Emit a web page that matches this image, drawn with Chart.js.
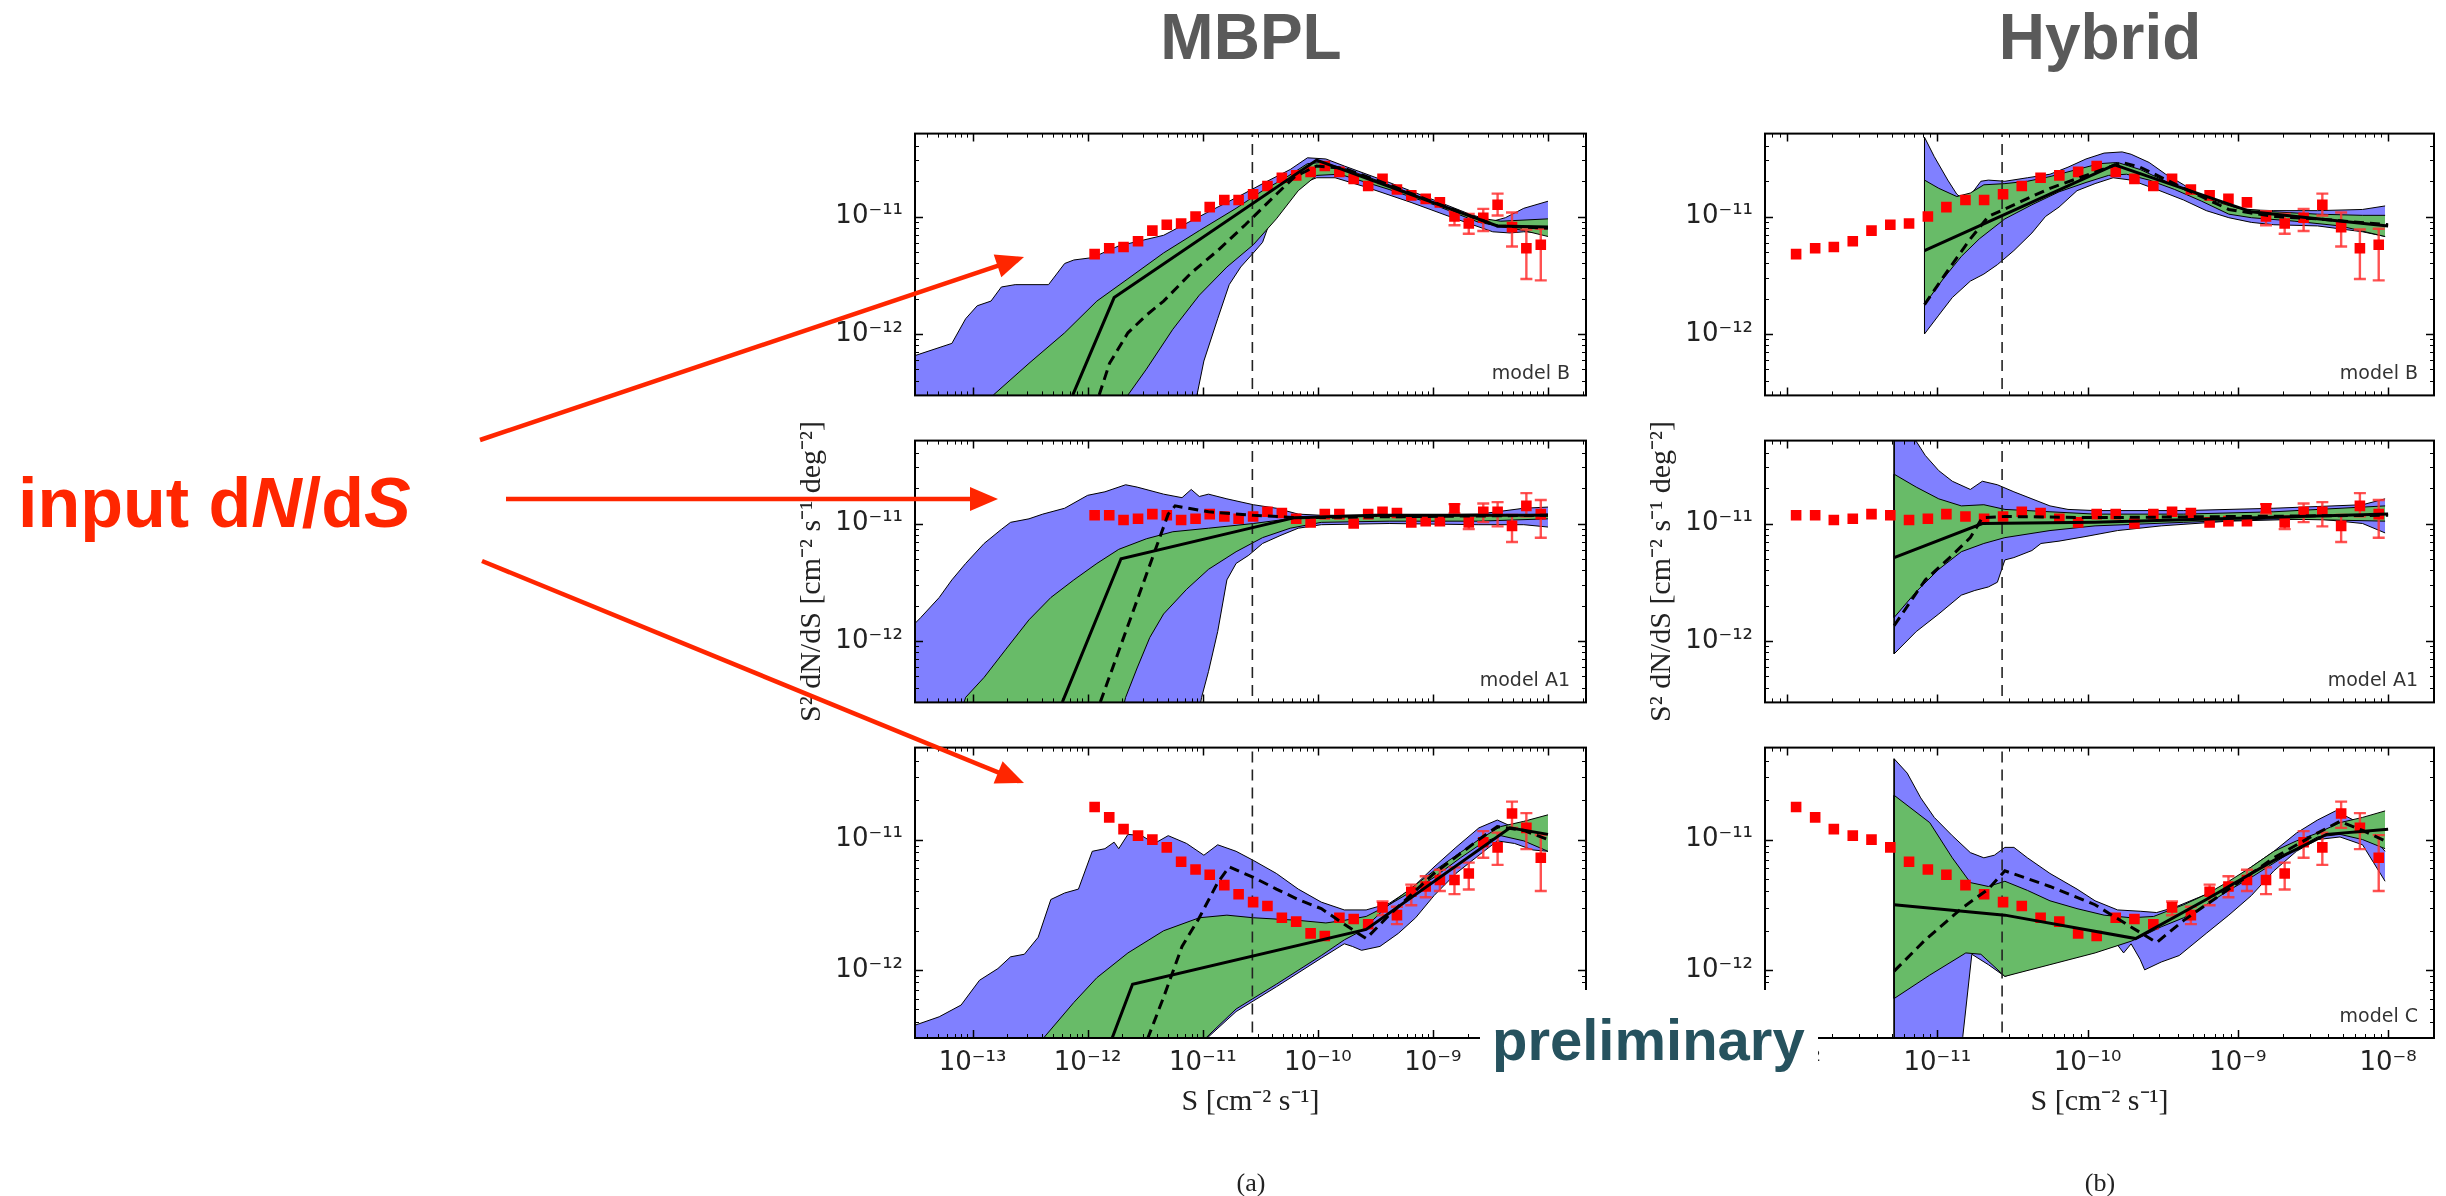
<!DOCTYPE html>
<html>
<head>
<meta charset="utf-8">
<title>S² dN/dS – MBPL vs Hybrid</title>
<script src="https://cdn.jsdelivr.net/npm/chart.js@4.4.1/dist/chart.umd.min.js"></script>
<style>
  html, body { margin: 0; padding: 0; background: #fff; }
  body { position: relative; width: 2446px; height: 1196px; overflow: hidden; }
  canvas { position: absolute; }
  #notes { position: absolute; left: 0; top: 0; }
</style>
</head>
<body>
<canvas id="mbplB"></canvas>
<canvas id="mbplA1"></canvas>
<canvas id="mbplC"></canvas>
<canvas id="hybB"></canvas>
<canvas id="hybA1"></canvas>
<canvas id="hybC"></canvas>

<svg id="notes" width="2446" height="1196" xmlns="http://www.w3.org/2000/svg">
  <g font-family="Liberation Sans, Arial, sans-serif" font-weight="bold">
    <text x="1251" y="59" text-anchor="middle" font-size="64" fill="#5a5a5a">MBPL</text>
    <text x="2100" y="59" text-anchor="middle" font-size="64" fill="#5a5a5a">Hybrid</text>
    <text x="18" y="527" font-size="70" fill="#ff2600">input d<tspan font-style="italic">N</tspan>/d<tspan font-style="italic">S</tspan></text>
    <rect x="1480" y="990" width="338" height="100" fill="#fff"/>
    <text x="1492" y="1060" font-size="58" fill="#26525e">preliminary</text>
  </g>
  <g stroke="#ff2600" stroke-width="4.5">
    <line x1="480" y1="440" x2="999" y2="265.3"/>
    <line x1="506" y1="499" x2="972" y2="499"/>
    <line x1="482" y1="561" x2="1000" y2="773.2"/>
  </g>
  <g fill="#ff2600">
    <polygon points="1024,257 1001.3,277.3 993.7,254.5"/>
    <polygon points="998,499 970,511 970,487"/>
    <polygon points="1024,783 993.6,783.5 1002.6,761.3"/>
  </g>
  <g font-family="Liberation Serif, serif" font-size="26" fill="#222" text-anchor="middle">
    <text x="1251" y="1191">(a)</text>
    <text x="2100" y="1191">(b)</text>
  </g>
</svg>

<script>
// --- data -------------------------------------------------------------
// flux bins of the input points, S [cm^-2 s^-1]
const binS = [1.15e-12, 1.54e-12, 2.05e-12, 2.74e-12, 3.65e-12, 4.87e-12, 6.49e-12, 8.66e-12,
              1.15e-11, 1.54e-11, 2.05e-11, 2.74e-11, 3.65e-11, 4.87e-11, 6.49e-11, 8.66e-11,
              1.15e-10, 1.54e-10, 2.05e-10, 2.74e-10, 3.65e-10, 4.87e-10, 6.49e-10, 8.66e-10,
              1.15e-9, 1.54e-9, 2.05e-9, 2.74e-9, 3.65e-9, 4.87e-9, 6.49e-9, 8.66e-9];

// input dN/dS points, log10(S^2 dN/dS), one per bin
const inputB = [-11.32, -11.27, -11.26, -11.21, -11.12, -11.07, -11.06, -11.00, -10.92, -10.86, -10.86, -10.81, -10.74, -10.67, -10.65, -10.62,
                -10.57, -10.62, -10.68, -10.74, -10.68, -10.77, -10.82, -10.85, -10.88, -11.00, -11.06, -11.01, -10.90, -11.09, -11.27, -11.24];
const inputA1 = [-10.93, -10.93, -10.97, -10.96, -10.92, -10.93, -10.97, -10.96, -10.92, -10.94, -10.96, -10.94, -10.90, -10.91, -10.96, -10.99,
                 -10.92, -10.92, -11.00, -10.92, -10.90, -10.91, -10.99, -10.98, -10.98, -10.87, -10.99, -10.90, -10.90, -11.02, -10.85, -10.92];
const inputC = [-10.75, -10.83, -10.92, -10.97, -11.00, -11.06, -11.17, -11.23, -11.27, -11.35, -11.42, -11.48, -11.51, -11.60, -11.63, -11.72,
                -11.74, -11.60, -11.61, -11.65, -11.52, -11.58, -11.40, -11.36, -11.31, -11.31, -11.26, -11.02, -11.06, -10.80, -10.91, -11.14];

// error bars: [bin index, log10 upper, log10 lower]
const errB = [[25, -10.955, -11.075], [26, -10.978, -11.147], [27, -10.935, -11.123], [28, -10.805, -10.991],
              [29, -10.966, -11.255], [30, -11.111, -11.532], [31, -11.104, -11.544]];
const errA1 = [[25, -10.835, -10.915], [26, -10.939, -11.048], [27, -10.83, -10.988], [28, -10.818, -11.024],
               [29, -10.927, -11.157], [30, -10.741, -10.939], [31, -10.80, -11.121]];
const errC = [[20, -11.475, -11.581], [21, -11.516, -11.649], [22, -11.346, -11.504], [23, -11.281, -11.443],
              [24, -11.232, -11.395], [25, -11.213, -11.419], [26, -11.177, -11.383], [27, -10.935, -11.140],
              [28, -10.947, -11.194], [29, -10.709, -10.910], [30, -10.797, -11.073], [31, -10.966, -11.395]];

// sensitivity cut, S [cm^-2 s^-1]
const cutS = 2.7e-11;

// axis ranges
const xRangeMBPL = [3.16e-14, 2.14e-8];
const xRangeHyb = [7.14e-13, 2.02e-8];
const yRange = [3.03e-13, 5.08e-11];

// reconstructed curves as [log10 S, log10 S^2 dN/dS]
// MBPL, model B
const mbplB_blueHi = [[-13.55,-12.20],[-13.18,-12.08],[-13.06,-11.87],[-12.96,-11.76],[-12.84,-11.72],[-12.75,-11.60],[-12.63,-11.58],[-12.34,-11.58],[-12.20,-11.40],[-12.12,-11.37],[-11.96,-11.35],[-11.73,-11.25],[-11.34,-11.16],[-10.95,-10.96],[-10.67,-10.82],[-10.44,-10.70],[-10.24,-10.60],[-10.09,-10.50],[-9.93,-10.51],[-9.77,-10.57],[-9.38,-10.71],[-8.99,-10.86],[-8.68,-10.98],[-8.48,-11.04],[-8.37,-11.01],[-8.21,-10.93],[-8.00,-10.87]];
const mbplB_blueLo = [[-13.55,-13.0],[-11.09,-12.8],[-11.05,-12.52],[-10.99,-12.23],[-10.87,-11.87],[-10.77,-11.58],[-10.67,-11.43],[-10.56,-11.31],[-10.48,-11.22],[-10.40,-11.00],[-10.28,-10.88],[-10.17,-10.73],[-10.01,-10.67],[-9.85,-10.67],[-9.58,-10.75],[-9.19,-10.88],[-8.80,-11.02],[-8.48,-11.13],[-8.33,-11.14],[-8.21,-11.13],[-8.00,-11.14]];
const mbplB_greenHi = [[-13.55,-13.2],[-12.90,-12.75],[-12.82,-12.52],[-12.51,-12.25],[-12.20,-11.99],[-11.92,-11.72],[-11.65,-11.53],[-11.34,-11.31],[-11.03,-11.12],[-10.71,-10.93],[-10.48,-10.78],[-10.28,-10.67],[-10.09,-10.55],[-9.97,-10.54],[-9.77,-10.59],[-9.38,-10.73],[-8.99,-10.88],[-8.68,-11.00],[-8.41,-11.04],[-8.00,-11.02]];
const mbplB_greenLo = [[-13.55,-13.2],[-11.70,-12.8],[-11.65,-12.52],[-11.49,-12.30],[-11.26,-11.96],[-11.03,-11.67],[-10.79,-11.43],[-10.56,-11.24],[-10.36,-11.02],[-10.17,-10.78],[-10.01,-10.65],[-9.81,-10.64],[-9.38,-10.77],[-8.99,-10.90],[-8.60,-11.05],[-8.21,-11.12],[-8.00,-11.17]];
const mbplB_solid = [[-12.13,-12.52],[-11.77,-11.69],[-10.01,-10.52],[-8.44,-11.08],[-8.00,-11.09]];
const mbplB_dashed = [[-11.90,-12.52],[-11.81,-12.25],[-11.65,-11.99],[-11.49,-11.84],[-11.34,-11.72],[-11.10,-11.48],[-10.87,-11.29],[-10.63,-11.07],[-10.36,-10.81],[-10.20,-10.66],[-10.01,-10.57],[-9.77,-10.59],[-9.38,-10.73],[-8.99,-10.88],[-8.44,-11.08],[-8.00,-11.10]];

// MBPL, model A1
const mbplA1_blueHi = [[-13.55,-11.90],[-13.45,-11.80],[-13.29,-11.63],[-13.18,-11.48],[-13.06,-11.34],[-12.90,-11.17],[-12.75,-11.05],[-12.67,-10.99],[-12.51,-10.96],[-12.39,-10.92],[-12.20,-10.87],[-12.00,-10.76],[-11.85,-10.73],[-11.67,-10.67],[-11.57,-10.69],[-11.34,-10.75],[-11.18,-10.78],[-11.10,-10.71],[-11.03,-10.77],[-10.95,-10.75],[-10.79,-10.79],[-10.56,-10.84],[-10.36,-10.87],[-10.17,-10.92],[-9.97,-10.93],[-9.38,-10.93],[-8.60,-10.92],[-8.21,-10.87],[-8.00,-10.86]];
const mbplA1_blueLo = [[-13.55,-13.0],[-11.05,-12.7],[-11.01,-12.48],[-10.95,-12.26],[-10.87,-11.92],[-10.79,-11.48],[-10.71,-11.34],[-10.60,-11.27],[-10.48,-11.17],[-10.32,-11.10],[-10.17,-11.04],[-9.97,-11.01],[-9.38,-11.00],[-8.60,-11.01],[-8.21,-11.01],[-8.00,-11.03]];
const mbplA1_greenHi = [[-13.55,-13.2],[-13.10,-12.6],[-13.06,-12.48],[-12.90,-12.31],[-12.71,-12.07],[-12.51,-11.82],[-12.32,-11.63],[-12.12,-11.48],[-11.92,-11.34],[-11.73,-11.22],[-11.49,-11.13],[-11.26,-11.07],[-10.95,-11.04],[-10.56,-11.00],[-10.17,-10.95],[-9.77,-10.94],[-8.99,-10.94],[-8.00,-10.92]];
const mbplA1_greenLo = [[-13.55,-13.2],[-11.70,-12.6],[-11.67,-12.48],[-11.57,-12.23],[-11.46,-11.97],[-11.34,-11.77],[-11.14,-11.56],[-10.95,-11.39],[-10.71,-11.24],[-10.48,-11.12],[-10.24,-11.04],[-9.97,-10.99],[-9.38,-10.98],[-8.60,-10.98],[-8.00,-10.96]];
const mbplA1_solid = [[-12.22,-12.52],[-11.71,-11.30],[-10.20,-10.95],[-9.50,-10.93],[-8.00,-10.93]];
const mbplA1_dashed = [[-11.89,-12.52],[-11.30,-10.92],[-11.24,-10.85],[-10.95,-10.90],[-10.56,-10.93],[-10.17,-10.95],[-8.00,-10.93]];

// MBPL, model C
const mbplC_blueHi = [[-13.55,-12.44],[-13.29,-12.36],[-13.10,-12.27],[-12.94,-12.08],[-12.78,-11.99],[-12.67,-11.90],[-12.55,-11.88],[-12.43,-11.75],[-12.32,-11.46],[-12.20,-11.41],[-12.08,-11.38],[-11.96,-11.09],[-11.85,-11.07],[-11.77,-11.02],[-11.73,-11.07],[-11.65,-10.96],[-11.53,-10.97],[-11.42,-11.03],[-11.30,-10.97],[-11.14,-11.03],[-10.99,-11.12],[-10.87,-11.04],[-10.71,-11.09],[-10.56,-11.16],[-10.36,-11.26],[-10.17,-11.38],[-9.97,-11.48],[-9.77,-11.54],[-9.58,-11.54],[-9.38,-11.49],[-9.19,-11.38],[-8.99,-11.21],[-8.80,-11.06],[-8.60,-10.91],[-8.44,-10.85],[-8.29,-10.91],[-8.13,-11.01],[-8.00,-11.07]];
const mbplC_blueLo = [[-13.55,-13.0],[-11.00,-12.8],[-10.97,-12.53],[-10.71,-12.32],[-10.36,-12.13],[-9.97,-11.91],[-9.77,-11.80],[-9.70,-11.82],[-9.62,-11.85],[-9.46,-11.82],[-9.30,-11.72],[-9.15,-11.60],[-8.99,-11.43],[-8.80,-11.26],[-8.60,-11.12],[-8.44,-11.01],[-8.29,-11.03],[-8.13,-11.08],[-8.00,-11.09]];
const mbplC_greenHi = [[-13.55,-13.2],[-12.41,-12.7],[-12.39,-12.53],[-12.12,-12.25],[-11.92,-12.06],[-11.65,-11.87],[-11.34,-11.70],[-11.03,-11.60],[-10.79,-11.58],[-10.56,-11.60],[-10.17,-11.62],[-9.93,-11.64],[-9.77,-11.62],[-9.58,-11.59],[-9.38,-11.50],[-8.99,-11.24],[-8.60,-11.00],[-8.41,-10.90],[-8.21,-10.86],[-8.00,-10.81]];
const mbplC_greenLo = [[-13.55,-13.2],[-11.00,-12.7],[-10.97,-12.52],[-10.71,-12.30],[-10.36,-12.11],[-9.97,-11.89],[-9.77,-11.77],[-9.62,-11.70],[-9.38,-11.50],[-9.15,-11.38],[-8.99,-11.29],[-8.76,-11.14],[-8.56,-11.02],[-8.41,-10.97],[-8.21,-11.01],[-8.00,-11.09]];
const mbplC_solid = [[-11.79,-12.53],[-11.61,-12.11],[-9.58,-11.69],[-8.33,-10.91],[-8.00,-10.96]];
const mbplC_dashed = [[-11.48,-12.53],[-11.34,-12.21],[-11.18,-11.82],[-11.03,-11.60],[-10.87,-11.33],[-10.77,-11.21],[-10.56,-11.29],[-10.36,-11.38],[-10.17,-11.46],[-9.97,-11.53],[-9.77,-11.65],[-9.58,-11.76],[-9.38,-11.58],[-8.99,-11.26],[-8.60,-11.00],[-8.44,-10.90],[-8.21,-10.93],[-8.00,-11.00]];

// Hybrid, model B
const hybB_blueHi = [[-11.085,-10.325],[-11.02,-10.49],[-10.93,-10.69],[-10.87,-10.81],[-10.84,-10.84],[-10.78,-10.82],[-10.71,-10.70],[-10.66,-10.69],[-10.55,-10.70],[-10.40,-10.67],[-10.25,-10.64],[-10.13,-10.58],[-10.01,-10.51],[-9.89,-10.46],[-9.77,-10.45],[-9.71,-10.47],[-9.59,-10.54],[-9.48,-10.64],[-9.36,-10.73],[-9.24,-10.83],[-9.12,-10.90],[-9.00,-10.94],[-8.76,-10.95],[-8.47,-10.95],[-8.17,-10.94],[-8.02,-10.91]];
const hybB_blueLo = [[-11.085,-12.00],[-10.99,-11.84],[-10.90,-11.69],[-10.78,-11.55],[-10.69,-11.49],[-10.60,-11.41],[-10.49,-11.29],[-10.37,-11.14],[-10.28,-11.00],[-10.19,-10.92],[-10.07,-10.78],[-9.95,-10.72],[-9.83,-10.67],[-9.71,-10.69],[-9.54,-10.77],[-9.36,-10.86],[-9.21,-10.95],[-9.06,-11.01],[-8.91,-11.05],[-8.76,-11.07],[-8.47,-11.08],[-8.17,-11.13],[-8.02,-11.17]];
const hybB_greenHi = [[-11.085,-10.69],[-10.99,-10.76],[-10.87,-10.83],[-10.78,-10.80],[-10.69,-10.73],[-10.55,-10.72],[-10.40,-10.70],[-10.25,-10.66],[-10.07,-10.60],[-9.92,-10.55],[-9.80,-10.54],[-9.65,-10.60],[-9.48,-10.70],[-9.36,-10.77],[-9.18,-10.86],[-9.00,-10.93],[-8.76,-10.96],[-8.47,-10.98],[-8.17,-10.99],[-8.02,-10.99]];
const hybB_greenLo = [[-11.085,-11.75],[-10.96,-11.53],[-10.84,-11.34],[-10.72,-11.19],[-10.55,-11.02],[-10.37,-10.90],[-10.19,-10.79],[-10.01,-10.71],[-9.86,-10.65],[-9.74,-10.64],[-9.59,-10.69],[-9.42,-10.77],[-9.24,-10.87],[-9.06,-10.98],[-8.91,-11.01],[-8.62,-11.04],[-8.32,-11.08],[-8.02,-11.17]];
const hybB_solid = [[-11.085,-11.29],[-9.82,-10.56],[-8.91,-10.96],[-8.47,-11.02],[-8.00,-11.08]];
const hybB_dashed = [[-11.085,-11.75],[-10.93,-11.46],[-10.78,-11.19],[-10.66,-11.00],[-10.49,-10.90],[-10.25,-10.76],[-10.01,-10.65],[-9.77,-10.54],[-9.65,-10.58],[-9.36,-10.76],[-9.06,-10.94],[-8.76,-11.00],[-8.47,-11.02],[-8.00,-11.07]];

// Hybrid, model A1
const hybA1_blueHi = [[-11.287,-10.23],[-11.14,-10.30],[-11.08,-10.42],[-10.99,-10.55],[-10.90,-10.64],[-10.78,-10.71],[-10.70,-10.64],[-10.60,-10.67],[-10.49,-10.73],[-10.37,-10.79],[-10.25,-10.85],[-10.13,-10.88],[-9.95,-10.89],[-9.36,-10.89],[-8.76,-10.87],[-8.17,-10.84],[-8.02,-10.79]];
const hybA1_blueLo = [[-11.287,-12.11],[-11.14,-11.92],[-10.99,-11.77],[-10.84,-11.61],[-10.75,-11.57],[-10.66,-11.54],[-10.60,-11.50],[-10.55,-11.31],[-10.49,-11.29],[-10.37,-11.23],[-10.31,-11.17],[-10.19,-11.15],[-10.01,-11.11],[-9.80,-11.06],[-9.51,-11.02],[-9.06,-10.98],[-8.47,-10.96],[-8.17,-11.00],[-8.02,-11.08]];
const hybA1_greenHi = [[-11.287,-10.58],[-11.14,-10.69],[-10.99,-10.79],[-10.84,-10.85],[-10.69,-10.84],[-10.55,-10.88],[-10.25,-10.90],[-9.95,-10.92],[-9.36,-10.92],[-8.76,-10.90],[-8.02,-10.85]];
const hybA1_greenLo = [[-11.287,-11.80],[-11.14,-11.58],[-10.99,-11.39],[-10.84,-11.24],[-10.69,-11.17],[-10.55,-11.12],[-10.25,-11.06],[-9.95,-11.02],[-9.36,-10.99],[-8.76,-10.96],[-8.02,-10.98]];
const hybA1_solid = [[-11.287,-11.29],[-10.70,-11.00],[-9.95,-10.99],[-8.00,-10.92]];
const hybA1_dashed = [[-11.287,-11.87],[-11.08,-11.48],[-10.90,-11.27],[-10.78,-11.12],[-10.70,-10.95],[-10.55,-10.94],[-9.95,-10.95],[-8.00,-10.93]];

// Hybrid, model C
const hybC_blueHi = [[-11.287,-10.38],[-11.20,-10.49],[-11.11,-10.68],[-11.02,-10.83],[-10.90,-10.97],[-10.78,-11.10],[-10.69,-11.14],[-10.62,-11.12],[-10.55,-11.06],[-10.49,-11.06],[-10.40,-11.14],[-10.25,-11.26],[-10.07,-11.38],[-9.95,-11.47],[-9.80,-11.54],[-9.65,-11.55],[-9.54,-11.56],[-9.42,-11.52],[-9.21,-11.42],[-9.06,-11.33],[-8.91,-11.21],[-8.76,-11.09],[-8.61,-10.95],[-8.47,-10.85],[-8.35,-10.78],[-8.23,-10.85],[-8.11,-10.97],[-8.02,-11.09]];
const hybC_blueLo = [[-11.287,-12.8],[-10.84,-12.8],[-10.83,-12.51],[-10.77,-11.88],[-10.66,-11.96],[-10.55,-12.05],[-10.40,-11.99],[-10.10,-11.90],[-9.80,-11.81],[-9.76,-11.87],[-9.71,-11.80],[-9.65,-11.92],[-9.62,-12.00],[-9.51,-11.94],[-9.39,-11.89],[-9.21,-11.72],[-9.06,-11.58],[-8.91,-11.43],[-8.76,-11.24],[-8.61,-11.09],[-8.47,-11.00],[-8.32,-10.98],[-8.17,-11.04],[-8.02,-11.32]];
const hybC_greenHi = [[-11.287,-10.66],[-11.05,-10.87],[-10.90,-11.14],[-10.78,-11.33],[-10.66,-11.36],[-10.55,-11.32],[-10.40,-11.39],[-10.25,-11.47],[-10.07,-11.53],[-9.89,-11.58],[-9.71,-11.60],[-9.56,-11.59],[-9.36,-11.50],[-9.21,-11.42],[-9.06,-11.32],[-8.91,-11.21],[-8.76,-11.09],[-8.61,-11.01],[-8.47,-10.95],[-8.32,-10.87],[-8.17,-10.83],[-8.02,-10.78]];
const hybC_greenLo = [[-11.287,-12.22],[-11.05,-12.04],[-10.81,-11.87],[-10.71,-11.88],[-10.55,-12.05],[-10.25,-11.96],[-9.95,-11.87],[-9.71,-11.78],[-9.65,-11.75],[-9.51,-11.67],[-9.36,-11.60],[-9.21,-11.50],[-9.06,-11.39],[-8.91,-11.29],[-8.76,-11.18],[-8.61,-11.07],[-8.47,-10.98],[-8.32,-10.96],[-8.17,-11.00],[-8.02,-11.07]];
const hybC_solid = [[-11.287,-11.50],[-10.55,-11.58],[-9.68,-11.76],[-9.21,-11.46],[-8.76,-11.16],[-8.41,-10.96],[-8.00,-10.92]];
const hybC_dashed = [[-11.287,-12.01],[-11.08,-11.77],[-10.84,-11.53],[-10.66,-11.38],[-10.55,-11.24],[-10.25,-11.36],[-9.95,-11.50],[-9.74,-11.65],[-9.54,-11.79],[-9.36,-11.62],[-9.06,-11.38],[-8.76,-11.14],[-8.47,-10.95],[-8.32,-10.86],[-8.17,-10.93],[-8.00,-11.02]];

// --- drawing -----------------------------------------------------------
const BLUE = 'rgb(128,128,255)';
const GREEN = 'rgb(104,187,104)';
const RED = '#ff0000';
const ERR = 'rgba(255,50,50,0.85)';

Chart.defaults.font.family = 'DejaVu Sans';
Chart.defaults.color = '#222';

const exp10 = v => Math.pow(10, v);
const curve = pairs => pairs.map(p => ({x: exp10(p[0]), y: exp10(p[1])}));

const sup = {'-': '⁻', '0': '⁰', '1': '¹', '2': '²', '3': '³', '4': '⁴', '5': '⁵', '6': '⁶', '7': '⁷', '8': '⁸', '9': '⁹'};
function powLabel(v) {
  const e = Math.log10(v);
  if (Math.abs(e - Math.round(e)) > 1e-6) return '';
  return '10' + String(Math.round(e)).split('').map(c => sup[c]).join('');
}

// 0 = no tick, 1 = minor, 2 = major (matplotlib-like log ticks)
function tickKind(v) {
  const e = Math.floor(Math.log10(v) + 1e-9);
  const m = v / Math.pow(10, e);
  const r = Math.round(m);
  if (Math.abs(m - r) > 0.02 || r < 1 || r > 9) return 0;
  return r === 1 ? 2 : 1;
}

// inward ticks on all four sides, the frame and the model label
const frameTicks = {
  id: 'frameTicks',
  afterDatasetsDraw(chart, args, opts) {
    const {ctx, chartArea: a, scales: {x, y}} = chart;
    ctx.save();
    ctx.strokeStyle = '#000';
    x.ticks.forEach(t => {
      const k = tickKind(t.value);
      if (!k) return;
      const px = Math.round(x.getPixelForValue(t.value)) + 0.5;
      if (px < a.left + 1 || px > a.right - 1) return;
      const len = k === 2 ? 8 : 4;
      ctx.lineWidth = k === 2 ? 1.5 : 1;
      ctx.beginPath();
      ctx.moveTo(px, a.bottom); ctx.lineTo(px, a.bottom - len);
      ctx.moveTo(px, a.top); ctx.lineTo(px, a.top + len);
      ctx.stroke();
    });
    y.ticks.forEach(t => {
      const k = tickKind(t.value);
      if (!k) return;
      const py = Math.round(y.getPixelForValue(t.value)) + 0.5;
      if (py < a.top + 1 || py > a.bottom - 1) return;
      const len = k === 2 ? 8 : 4;
      ctx.lineWidth = k === 2 ? 1.5 : 1;
      ctx.beginPath();
      ctx.moveTo(a.left, py); ctx.lineTo(a.left + len, py);
      ctx.moveTo(a.right, py); ctx.lineTo(a.right - len, py);
      ctx.stroke();
    });
    ctx.lineWidth = 2;
    ctx.strokeRect(a.left, a.top, a.right - a.left, a.bottom - a.top);
    if (opts.label) {
      ctx.fillStyle = '#333';
      ctx.font = '19px DejaVu Sans';
      ctx.textAlign = 'right';
      ctx.textBaseline = 'alphabetic';
      ctx.fillText(opts.label, a.right - 16, a.bottom - 16);
    }
    ctx.restore();
  }
};

function buildPanel(p) {
  const cv = document.getElementById(p.id);
  const YW = 130, PT = 10, PR = 12, XH = p.xLabels ? 100 : 0;
  cv.width = YW + p.w + PR;
  cv.height = PT + p.h + XH;
  cv.style.left = (p.x - YW) + 'px';
  cv.style.top = (p.y - PT) + 'px';

  const line = (pairs, extra) => Object.assign({
    data: curve(pairs), showLine: true, pointRadius: 0, pointHoverRadius: 0,
    borderColor: '#000', borderWidth: 1, fill: false
  }, extra);

  const errData = [];
  p.err.forEach(([k, hi, lo]) => {
    errData.push({x: binS[k], y: exp10(hi)}, {x: binS[k], y: exp10(lo)}, {x: binS[k], y: null});
  });

  const ds = [];
  ds.push(line(p.blueHi, {backgroundColor: BLUE, fill: '+1', order: 20}));
  ds.push(line(p.blueLo, {order: 19}));
  if (p.edge) ds.push(line([p.blueHi[0], p.blueLo[0]], {order: 18}));
  ds.push(line(p.greenHi, {backgroundColor: GREEN, fill: '+1', order: 17}));
  ds.push(line(p.greenLo, {order: 16}));
  if (p.edge) ds.push(line([p.greenHi[0], p.greenLo[0]], {order: 15}));
  ds.push({
    data: [{x: cutS, y: 1e-14}, {x: cutS, y: 1e-9}], showLine: true, pointRadius: 0,
    borderColor: '#222', borderWidth: 1.6, borderDash: [11, 7], fill: false, order: 14
  });
  ds.push({
    data: errData, showLine: true, spanGaps: false, borderColor: ERR, borderWidth: 2.4,
    pointStyle: 'line', pointRadius: 6, pointHoverRadius: 6, pointBorderColor: ERR,
    pointBorderWidth: 2.4, fill: false, order: 13
  });
  ds.push({
    data: p.red.map((v, i) => ({x: binS[i], y: exp10(v)})), showLine: false,
    pointStyle: 'rect', pointRadius: 7.5, pointHoverRadius: 7.5, pointBackgroundColor: RED,
    pointBorderWidth: 0, order: 12
  });
  ds.push(line(p.solid, {borderWidth: 3, order: 11}));
  ds.push(line(p.dashed, {borderWidth: 3, borderDash: [10, 6], order: 10}));

  new Chart(cv, {
    type: 'line',
    data: {datasets: ds},
    options: {
      responsive: false,
      animation: false,
      devicePixelRatio: 1,
      events: [],
      layout: {padding: {left: 0, top: PT, right: PR, bottom: 0}},
      plugins: {legend: {display: false}, tooltip: {enabled: false}, frameTicks: {label: p.label}},
      scales: {
        x: {
          type: 'logarithmic', min: p.xr[0], max: p.xr[1],
          grid: {display: false, drawTicks: false}, border: {display: false},
          ticks: {display: p.xLabels, autoSkip: false, maxRotation: 0, padding: 10,
                  font: {size: 26}, color: '#222', callback: v => powLabel(v)},
          title: {display: p.xLabels, text: 'S [cm⁻² s⁻¹]', color: '#222',
                  font: {family: 'Liberation Serif', size: 30}, padding: {top: 0, bottom: 18}},
          afterFit: s => { s.height = XH; }
        },
        y: {
          type: 'logarithmic', min: yRange[0], max: yRange[1],
          grid: {display: false, drawTicks: false}, border: {display: false},
          ticks: {autoSkip: false, padding: 12, font: {size: 26}, color: '#222', callback: v => powLabel(v)},
          title: {display: p.yTitle, text: 'S² dN/dS [cm⁻² s⁻¹ deg⁻²]', color: '#222',
                  font: {family: 'Liberation Serif', size: 30}, padding: {top: 9, bottom: 0}},
          afterFit: s => { s.width = YW; }
        }
      }
    },
    plugins: [frameTicks]
  });
}

const panels = [
  {id: 'mbplB', x: 915, y: 116, w: 671, h: 307, xr: xRangeMBPL, label: 'model B', red: inputB, err: errB,
   blueHi: mbplB_blueHi, blueLo: mbplB_blueLo, greenHi: mbplB_greenHi, greenLo: mbplB_greenLo, solid: mbplB_solid, dashed: mbplB_dashed},
  {id: 'mbplA1', x: 915, y: 423, w: 671, h: 307, xr: xRangeMBPL, label: 'model A1', red: inputA1, err: errA1, yTitle: true,
   blueHi: mbplA1_blueHi, blueLo: mbplA1_blueLo, greenHi: mbplA1_greenHi, greenLo: mbplA1_greenLo, solid: mbplA1_solid, dashed: mbplA1_dashed},
  {id: 'mbplC', x: 915, y: 730, w: 671, h: 308, xr: xRangeMBPL, label: 'model C', red: inputC, err: errC, xLabels: true,
   blueHi: mbplC_blueHi, blueLo: mbplC_blueLo, greenHi: mbplC_greenHi, greenLo: mbplC_greenLo, solid: mbplC_solid, dashed: mbplC_dashed},
  {id: 'hybB', x: 1765, y: 116, w: 669, h: 307, xr: xRangeHyb, label: 'model B', red: inputB, err: errB, edge: true,
   blueHi: hybB_blueHi, blueLo: hybB_blueLo, greenHi: hybB_greenHi, greenLo: hybB_greenLo, solid: hybB_solid, dashed: hybB_dashed},
  {id: 'hybA1', x: 1765, y: 423, w: 669, h: 307, xr: xRangeHyb, label: 'model A1', red: inputA1, err: errA1, yTitle: true, edge: true,
   blueHi: hybA1_blueHi, blueLo: hybA1_blueLo, greenHi: hybA1_greenHi, greenLo: hybA1_greenLo, solid: hybA1_solid, dashed: hybA1_dashed},
  {id: 'hybC', x: 1765, y: 730, w: 669, h: 308, xr: xRangeHyb, label: 'model C', red: inputC, err: errC, xLabels: true, edge: true,
   blueHi: hybC_blueHi, blueLo: hybC_blueLo, greenHi: hybC_greenHi, greenLo: hybC_greenLo, solid: hybC_solid, dashed: hybC_dashed}
];

panels.forEach(p => buildPanel(Object.assign({xLabels: false, yTitle: false, edge: false}, p)));
</script>
</body>
</html>
